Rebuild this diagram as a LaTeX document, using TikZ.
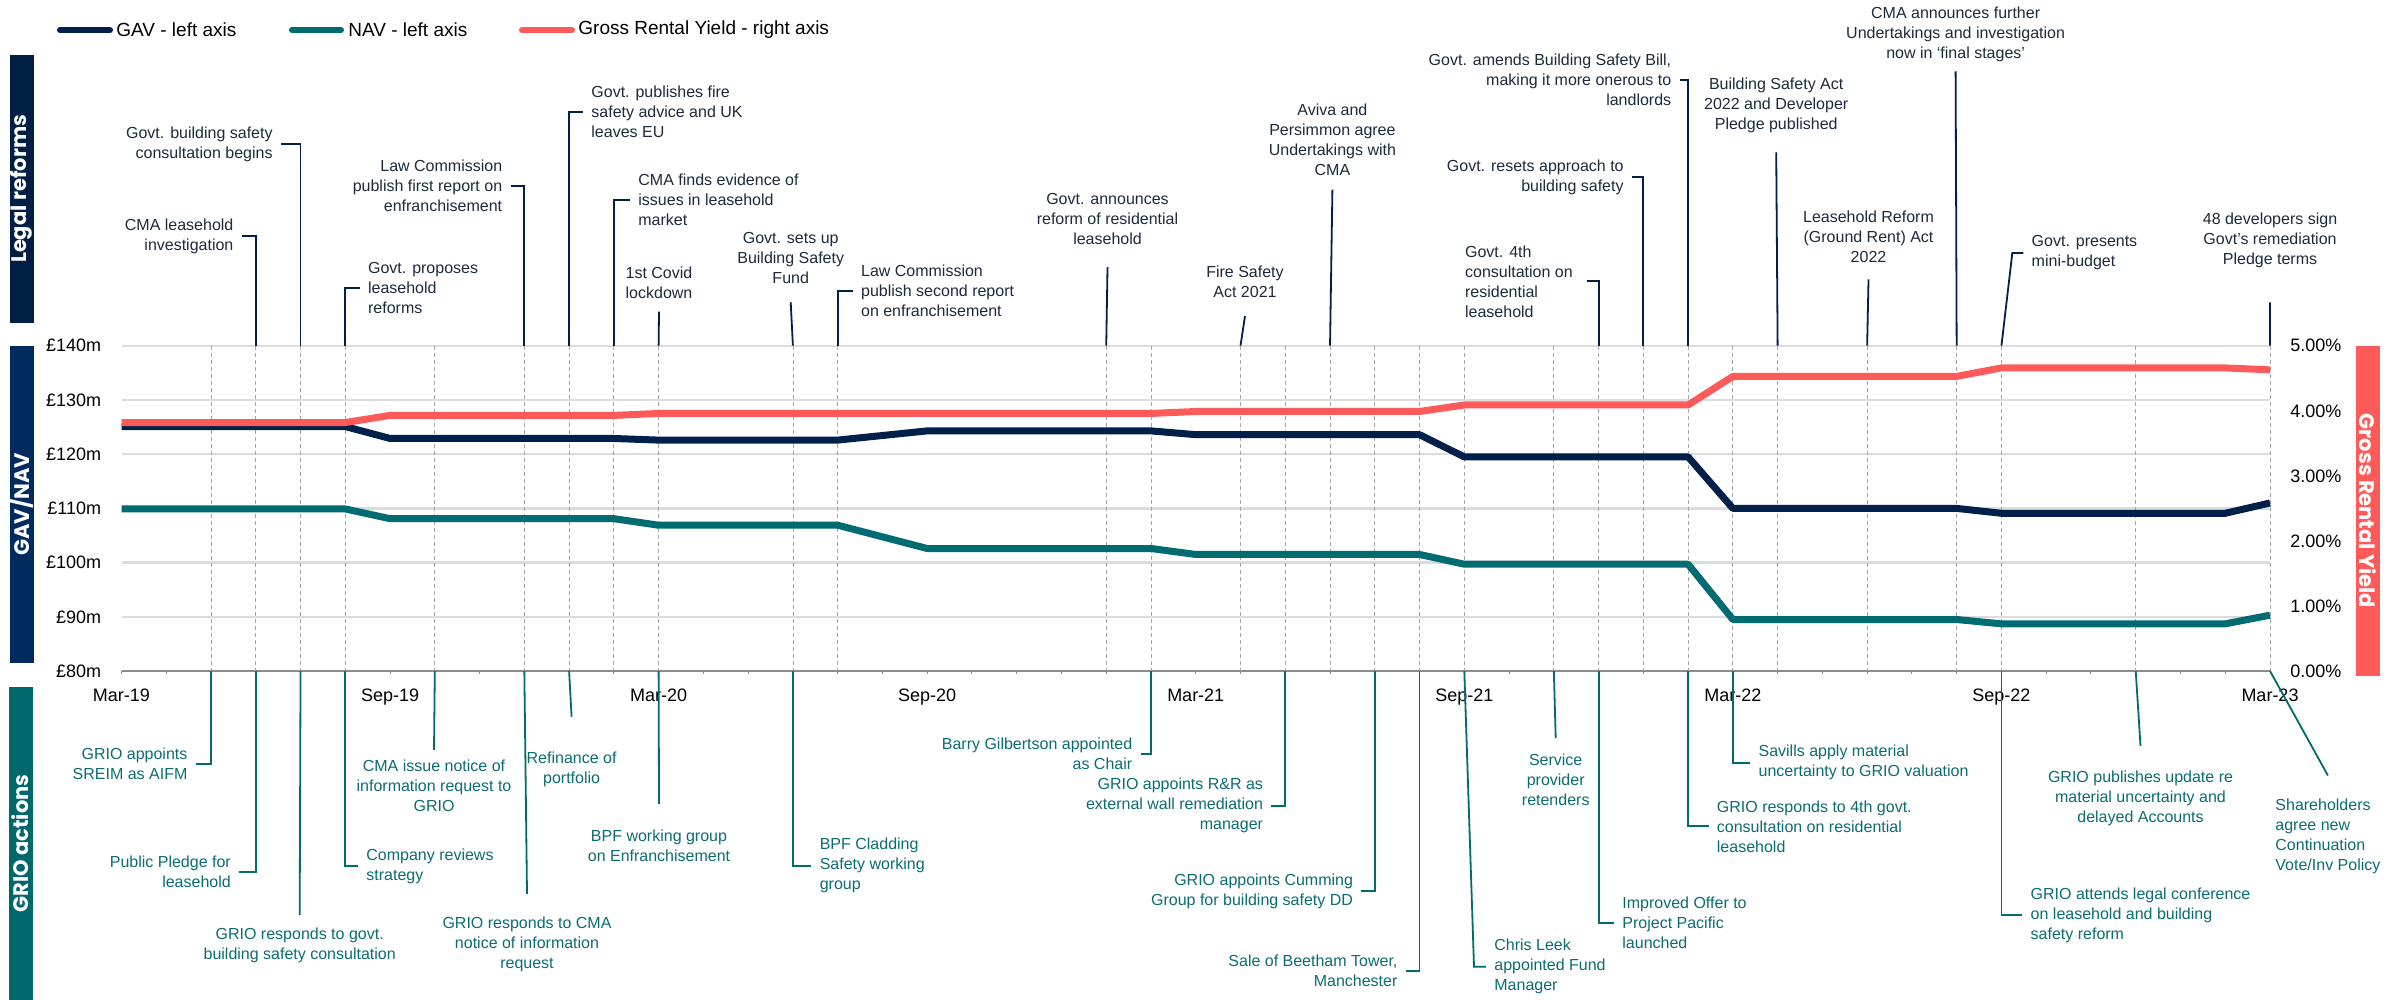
\documentclass[tikz,border=0pt]{standalone}
\usepackage{fontspec}
\setmainfont{Liberation Sans}
\newfontfamily\sidefont{Poppins}
\usepackage{tikz}

\definecolor{navyline}{HTML}{00204A}
\definecolor{tealline}{HTML}{006B70}
\definecolor{coral}{HTML}{FF5A5A}
\definecolor{gridgray}{HTML}{DCDCDC}
\definecolor{axisgray}{HTML}{8C8C8C}
\definecolor{dashgray}{HTML}{A6A6A6}
\definecolor{toptext}{HTML}{1C2A3C}
\definecolor{bottext}{HTML}{0B6C71}
\definecolor{navybox}{HTML}{001F44}
\definecolor{bluebox}{HTML}{002B5E}
\definecolor{tealbox}{HTML}{00686D}

\begin{document}
\begin{tikzpicture}[
        x=0.5pt, y=-0.5pt,
        gav/.style={navyline, line width=3.5pt, line join=round},
        nav/.style={tealline, line width=3.5pt, line join=round},
        gry/.style={coral, line width=3.5pt, line join=round},
        grid line/.style={gridgray, line width=1.2pt},
        axis line/.style={axisgray, line width=1.1pt},
        event line/.style={dashgray, line width=0.4pt, dash pattern=on 2pt off 1.5pt},
        top text/.style={text=toptext, font=\fontsize{8}{10}\selectfont, inner sep=0pt},
        bot text/.style={text=bottext, font=\fontsize{8}{10}\selectfont, inner sep=0pt},
        top link/.style={navyline, line width=0.9pt},
        bot link/.style={tealline, line width=0.9pt},
        side box/.style={text=white, font=\sidefont\bfseries\fontsize{10.5}{10.5}\selectfont,
            inner sep=0pt, minimum height=12pt},
        axis label/.style={font=\fontsize{9}{10}\selectfont, inner sep=0pt},
        legend label/.style={font=\fontsize{9.5}{11}\selectfont, inner sep=0pt},
    ]
    \useasboundingbox (0,0) rectangle (2408,1000);

    % legend
    \node[legend label, anchor=west] (lgav) at (116,30) {GAV - left axis};
    \node[legend label, anchor=west] (lnav) at (348,30) {NAV - left axis};
    \node[legend label, anchor=west] (lgry) at (578,30) {Gross Rental Yield - right axis};
    \draw[gav, line width=3pt, line cap=round] ([xshift=-3pt]lgav.west) -- ++(-50,0);
    \draw[nav, line width=3pt, line cap=round] ([xshift=-3.5pt]lnav.west) -- ++(-49,0);
    \draw[gry, line width=3pt, line cap=round] ([xshift=-3pt]lgry.west) -- ++(-50,0);

    % side boxes
    \node[side box, fill=navybox, rotate=90, minimum width=134pt] (legal) at (21.5,189) {Legal reforms};
    \node[side box, fill=bluebox, rotate=90, minimum width=158.3pt] (gavnav) at (21.5,504.3) {GAV/NAV};
    \node[side box, fill=tealbox, rotate=90, minimum width=156.5pt] (grio) at (20.5,843.5) {GRIO actions};
    \node[side box, fill=coral, rotate=-90, minimum width=165pt] (yieldbox) at (2367.5,511) {Gross Rental Yield};

    % chart
    \begin{scope}[shift={(121.5,671)}, x=22.38pt, y=2.71pt]
        \foreach \v in {10,20,...,60}
            \draw[grid line] (0,\v) -- (48,\v);
        \draw[axis line] (0,0) -- (48,0);
        \foreach \m in {0,...,48}
            \draw[axisgray, line width=0.5pt] (\m,0) -- (\m,-0.6);
        \foreach \v/\lab in {0/80,10/90,20/100,30/110,40/120,50/130,60/140}
            \node[axis label, anchor=east] (yl\v) at ([xshift=-10pt]0,\v) {£\lab m};
        \foreach \v/\lab in {0/0.00,12/1.00,24/2.00,36/3.00,48/4.00,60/5.00}
            \node[axis label, anchor=west] (yr\v) at ([xshift=10pt]48,\v) {\lab\%};
        \foreach \m/\lab in {0/Mar-19,6/Sep-19,12/Mar-20,18/Sep-20,24/Mar-21,30/Sep-21,36/Mar-22,42/Sep-22,48/Mar-23}
            \node[axis label, anchor=base] (d\m) at ([yshift=-15.3pt]\m,0) {\lab};
    \end{scope}

    % event dates
    \foreach \m in {2,3,4,5,7,9,10,11,12,15,16,22,23,25,26,27,28,29,30,32,33,34,35,36,37,39,41,42,45,48}{
        \coordinate (t\m) at ({121.5+44.76*\m},345.7);
        \coordinate (b\m) at ({121.5+44.76*\m},671);
        \draw[event line] (t\m) -- (b\m);
    }

    % series
    \begin{scope}[shift={(121.5,671)}, x=22.38pt, y=2.71pt]
        \draw[nav] plot coordinates {(0,29.9) (5,29.9) (6,28.1) (11,28.1) (12,26.9) (16,26.9)
            (18,22.6) (23,22.6) (24,21.5) (29,21.5) (30,19.7) (35,19.7) (36,9.5) (41,9.5)
            (42,8.7) (47,8.7) (48,10.3)};
        \draw[gav] plot coordinates {(0,45.1) (5,45.1) (6,42.9) (11,42.9) (12,42.6) (16,42.6)
            (18,44.3) (23,44.3) (24,43.6) (29,43.6) (30,39.5) (35,39.5) (36,30) (41,30)
            (42,29.1) (47,29.1) (48,31)};
        \draw[gry] plot coordinates {(0,45.84) (5,45.84) (6,47.16) (11,47.16) (12,47.52)
            (23,47.52) (24,47.88) (29,47.88) (30,49.08) (35,49.08) (36,54.36) (41,54.36)
            (42,55.92) (47,55.92) (48,55.56)};
    \end{scope}

    % legal reforms
    \node[top text, anchor=east, align=right] (cmainv) at (233.8,236) {CMA leasehold\\investigation};
    \node[top text, anchor=east, align=right] (consult) at (273,144) {Govt. building safety\\consultation begins};
    \node[top text, anchor=west, align=left] (proposes) at (367.7,288) {Govt. proposes\\leasehold\\reforms};
    \node[top text, anchor=east, align=right] (lawone) at (502.6,186) {Law Commission\\publish first report on\\enfranchisement};
    \node[top text, anchor=west, align=left] (fireadv) at (591,111.7) {Govt. publishes fire\\safety advice and UK\\leaves EU};
    \node[top text, anchor=west, align=left] (cmaevid) at (638,200) {CMA finds evidence of\\issues in leasehold\\market};
    \node[top text, align=center] (covid) at (659,282.3) {1st Covid\\lockdown};
    \node[top text, align=center] (bsfund) at (790.7,258.2) {Govt. sets up\\Building Safety\\Fund};
    \node[top text, anchor=west, align=left] (lawtwo) at (860.7,291) {Law Commission\\publish second report\\on enfranchisement};
    \node[top text, align=center] (reform) at (1107.5,219) {Govt. announces\\reform of residential\\leasehold};
    \node[top text, align=center] (fsact) at (1245,281.7) {Fire Safety\\Act 2021};
    \node[top text, align=center] (aviva) at (1332.4,139.3) {Aviva and\\Persimmon agree\\Undertakings with\\CMA};
    \node[top text, anchor=west, align=left] (fourth) at (1464.7,281.3) {Govt. 4th\\consultation on\\residential\\leasehold};
    \node[top text, anchor=east, align=right] (resets) at (1624,177.2) {Govt. resets approach to\\building safety};
    \node[top text, anchor=east, align=right] (amends) at (1671.6,79.7) {Govt. amends Building Safety Bill,\\making it more onerous to\\landlords};
    \node[top text, align=center] (bsact) at (1776.2,105) {Building Safety Act\\2022 and Developer\\Pledge published};
    \node[top text, align=center] (groundrent) at (1868.5,236.3) {Leasehold Reform\\(Ground Rent) Act\\2022};
    \node[top text, align=center] (cmafurther) at (1955.6,34.7) {CMA announces further\\Undertakings and investigation\\now in ‘final stages’};
    \node[top text, anchor=west, align=left] (minibud) at (2031.3,253) {Govt. presents\\mini-budget};
    \node[top text, align=center] (pledge) at (2270,240.8) {48 developers sign\\Govt’s remediation\\Pledge terms};

    \draw[top link] ([xshift=4pt]cmainv.east) -| (t3);
    \draw[top link] ([xshift=4pt]consult.east) -| (t4);
    \draw[top link] ([xshift=-4pt]proposes.west) -| (t5);
    \draw[top link] ([xshift=4pt]lawone.east) -| (t9);
    \draw[top link] ([xshift=-4pt]fireadv.west) -| (t10);
    \draw[top link] ([xshift=-4pt]cmaevid.west) -| (t11);
    \draw[top link] ([yshift=-6.5pt]covid.south) -- (t12);
    \draw[top link] ([yshift=-9pt]bsfund.south) -- (t15);
    \draw[top link] ([xshift=-4pt]lawtwo.west) -| (t16);
    \draw[top link] ([yshift=-11pt]reform.south) -- (t22);
    \draw[top link] ([yshift=-9pt]fsact.south) -- (t25);
    \draw[top link] ([yshift=-7pt]aviva.south) -- (t27);
    \draw[top link] ([xshift=7pt]fourth.east) -| (t33);
    \draw[top link] ([xshift=4pt]resets.east) -| (t34);
    \draw[top link] ([xshift=4pt]amends.east) -| (t35);
    \draw[top link] ([yshift=-9.7pt]bsact.south) -- (t37);
    \draw[top link] ([yshift=-8.4pt]groundrent.south) -- (t39);
    \draw[top link] ([yshift=-4.4pt]cmafurther.south) -- (t41);
    \draw[top link] ([xshift=-4pt]minibud.west) -- ++(-11,0) -- (t42);
    \draw[top link] ([yshift=-16.8pt]pledge.south) -- (t48);

    % GRIO actions
    \node[bot text, anchor=east, align=right] (sreim) at (187.8,764) {GRIO appoints\\SREIM as AIFM};
    \node[bot text, anchor=east, align=right] (pubpledge) at (231.2,872) {Public Pledge for\\leasehold};
    \node[bot text, align=center] (respbsc) at (299.7,945.3) {GRIO responds to govt.\\building safety consultation};
    \node[bot text, anchor=west, align=left] (strategy) at (366,866.3) {Company reviews\\strategy};
    \node[bot text, align=center] (cmanotice) at (434,786) {CMA issue notice of\\information request to\\GRIO};
    \node[bot text, align=center] (respcma) at (527,944.8) {GRIO responds to CMA\\notice of information\\request};
    \node[bot text, align=center] (refin) at (571.6,769) {Refinance of\\portfolio};
    \node[bot text, align=center] (bpfenf) at (659,846) {BPF working group\\on Enfranchisement};
    \node[bot text, anchor=west, align=left] (cladding) at (819.4,865.7) {BPF Cladding\\Safety working\\group};
    \node[bot text, anchor=east, align=right] (chair) at (1132.6,754) {Barry Gilbertson appointed\\as Chair};
    \node[bot text, anchor=east, align=right] (randr) at (1263.4,805.8) {GRIO appoints R\&R as\\external wall remediation\\manager};
    \node[bot text, anchor=east, align=right] (cumming) at (1353.4,891) {GRIO appoints Cumming\\Group for building safety DD};
    \node[bot text, anchor=east, align=right] (beetham) at (1397.8,971) {Sale of Beetham Tower,\\Manchester};
    \node[bot text, anchor=west, align=left] (leek) at (1494,966.7) {Chris Leek\\appointed Fund\\Manager};
    \node[bot text, align=center] (retender) at (1555.7,779.7) {Service\\provider\\retenders};
    \node[bot text, anchor=west, align=left] (pacific) at (1622,922.7) {Improved Offer to\\Project Pacific\\launched};
    \node[bot text, anchor=west, align=left] (respfourth) at (1716.5,826.3) {GRIO responds to 4th govt.\\consultation on residential\\leasehold};
    \node[bot text, anchor=west, align=left] (savills) at (1758.2,762.7) {Savills apply material\\uncertainty to GRIO valuation};
    \node[bot text, anchor=west, align=left] (legalconf) at (2030.3,915) {GRIO attends legal conference\\on leasehold and building\\safety reform};
    \node[bot text, align=center] (update) at (2140.5,798.8) {GRIO publishes update re\\material uncertainty and\\delayed Accounts};
    \node[bot text, anchor=west, align=left] (holders) at (2275,836.3) {Shareholders\\agree new\\Continuation\\Vote/Inv Policy};

    \draw[bot link] ([xshift=4pt]sreim.east) -| (b2);
    \draw[bot link] ([xshift=4pt]pubpledge.east) -| (b3);
    \draw[bot link] ([yshift=6.2pt]respbsc.north) -- (b4);
    \draw[bot link] ([xshift=-4pt]strategy.west) -| (b5);
    \draw[bot link] ([yshift=4.9pt]cmanotice.north) -- (b7);
    \draw[bot link] ([yshift=11.5pt]respcma.north) -- (b9);
    \draw[bot link] ([yshift=17.2pt]refin.north) -- (b10);
    \draw[bot link] ([yshift=12.9pt]bpfenf.north) -- (b12);
    \draw[bot link] ([xshift=-4pt]cladding.west) -| (b15);
    \draw[bot link] ([xshift=4pt]chair.east) -| (b23);
    \draw[bot link] ([xshift=4pt]randr.east) -| (b26);
    \draw[bot link] ([xshift=4pt]cumming.east) -| (b28);
    \draw[bot link] ([xshift=4pt]beetham.east) -| (b29);
    \draw[bot link] ([xshift=-4pt]leek.west) -- ++(-12,0) -- (b30);
    \draw[bot link] ([yshift=7.7pt]retender.north) -- (b32);
    \draw[bot link] ([xshift=-4pt]pacific.west) -| (b33);
    \draw[bot link] ([xshift=-4pt]respfourth.west) -| (b35);
    \draw[bot link] ([xshift=-4pt]savills.west) -| (b36);
    \draw[bot link] ([xshift=-4pt]legalconf.west) -| (b42);
    \draw[bot link] ([yshift=12.5pt]update.north) -- (b45);
    \draw[bot link] ([yshift=11.5pt]holders.north) -- (b48);
\end{tikzpicture}
\end{document}
